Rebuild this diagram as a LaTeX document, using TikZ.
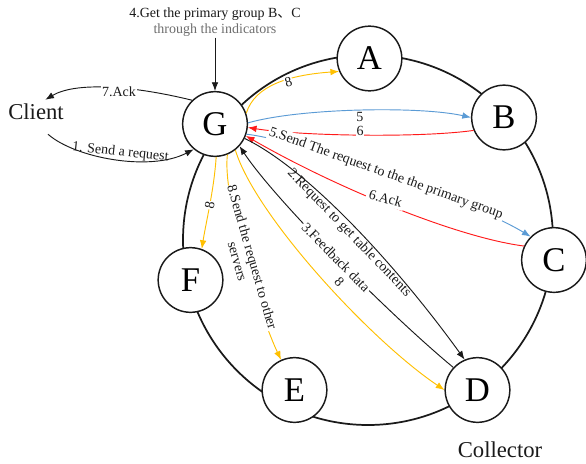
\documentclass[tikz,border=0pt]{standalone}
\usepackage{fontspec}
\setmainfont{Liberation Serif}
\newfontfamily\cjkfont{Noto Sans CJK SC}
\usetikzlibrary{arrows.meta}
\definecolor{cyel}{HTML}{FFC000}
\definecolor{cblu}{HTML}{5B9BD5}
\definecolor{cred}{HTML}{FF1A1A}
\definecolor{cink}{HTML}{1A1A1A}
\definecolor{cgry}{HTML}{6E6E6E}
\begin{document}
\begin{tikzpicture}[x=0.75pt,y=-0.75pt,
  server/.style={circle, draw=cink, line width=1.1pt, fill=white, minimum size=48.5pt,
                 inner sep=0pt, font=\fontsize{26}{26}\selectfont},
  ringline/.style={draw=cink, line width=1.3pt},
  link/.style={line width=0.7pt, -{Latex[length=6.5pt,width=5pt]}},
  tag/.style={font=\fontsize{10.5}{11.5}\selectfont, text=cink, inner sep=1pt},
  bigtext/.style={font=\fontsize{17}{17}\selectfont, text=cink, inner sep=2pt}]
\useasboundingbox (0,0) rectangle (586,464);
\fill[white] (0,0) rectangle (586,464);

% the server ring
\draw[ringline] (368,240) circle[radius=185];

% servers on the ring
\node[server] (G) at (215,124) {G};
\node[server] (A) at (369.5,58.5) {A};
\node[server] (B) at (504,117.5) {B};
\node[server] (C) at (554,260) {C};
\node[server] (D) at (477.5,390) {D};
\node[server] (E) at (294.5,390) {E};
\node[server] (F) at (190.5,280) {F};

% outside labels
\node[bigtext] (Client) at (36,112) {Client};
\node[bigtext] (Coll) at (500,450) {Collector};
\node[tag, align=center] (info) at (215,22)
  {4.Get the primary group B{\cjkfont 、}C\\\textcolor{cgry}{through the indicators}};

% client <-> G
\draw[link, draw=cink] (info) -- (G);
\draw[link, draw=cink] ([xshift=9pt,yshift=-8.5pt]Client.south)
  .. controls (75,158) and (150,172) .. (G.230)
  node[tag, pos=.53, sloped, above, inner sep=0.5pt] {1. Send a request};
\draw[link, draw=cink] (G.134) .. controls (130,85) and (75,82) .. ([xshift=7pt,yshift=1pt]Client.north)
  node[tag, pos=.42, fill=white, yshift=-3pt] {7.Ack};

% G -> primary group and back
\draw[link, draw=cblu] (G.2) .. controls (300,108) and (420,106) .. (B.180)
  node[tag, pos=.5, below] {5};
\draw[link, draw=cred] (B.203) .. controls (420,138) and (300,136) .. (G.-6)
  node[tag, pos=.5, yshift=3pt, fill=white, inner sep=0.5pt] {6};
\draw[link, draw=cblu] (G.-18) .. controls (300,140) and (470,200) .. (C.135)
  node[tag, pos=.5, sloped, fill=white] {5.Send The request to the the primary group};
\draw[link, draw=cred] (C.155) .. controls (460,238) and (340,190) .. (G.-21)
  node[tag, pos=.54, rotate=-16, yshift=4pt, fill=white, inner sep=2pt] {6.Ack};

% G <-> collector
\draw[link, draw=cink] (G.-26) .. controls (310,170) and (400,270) .. (D.113)
  node[tag, pos=.5, sloped, below] {2.Request to get table contents};
\draw[link, draw=cink] (D.137) .. controls (390,315) and (275,200) .. (G.-42)
  node[tag, pos=.5, sloped, fill=white] {3.Feedback data};

% G forwards the request to the other servers
\draw[link, draw=cyel] (G.-68) .. controls (222,200) and (262,320) .. (E.114)
  node[tag, pos=.5, sloped, fill=white, align=center, inner sep=0.5pt]
  {8.Send the request to other\\servers};
\draw[link, draw=cyel] (G.-88) .. controls (214,190) and (206,222) .. (F.70)
  node[tag, pos=.5, sloped, fill=white, inner sep=0.5pt] {8};
\draw[link, draw=cyel] (G.-52) .. controls (255,215) and (370,340) .. (D.180)
  node[tag, pos=.55, sloped, above=3pt] {8};
\draw[link, draw=cyel] (G.19) .. controls (255,85) and (290,75) .. (A.203)
  node[tag, pos=.6, sloped, fill=white, inner sep=0.5pt, yshift=-2pt] {8};
\end{tikzpicture}
\end{document}
